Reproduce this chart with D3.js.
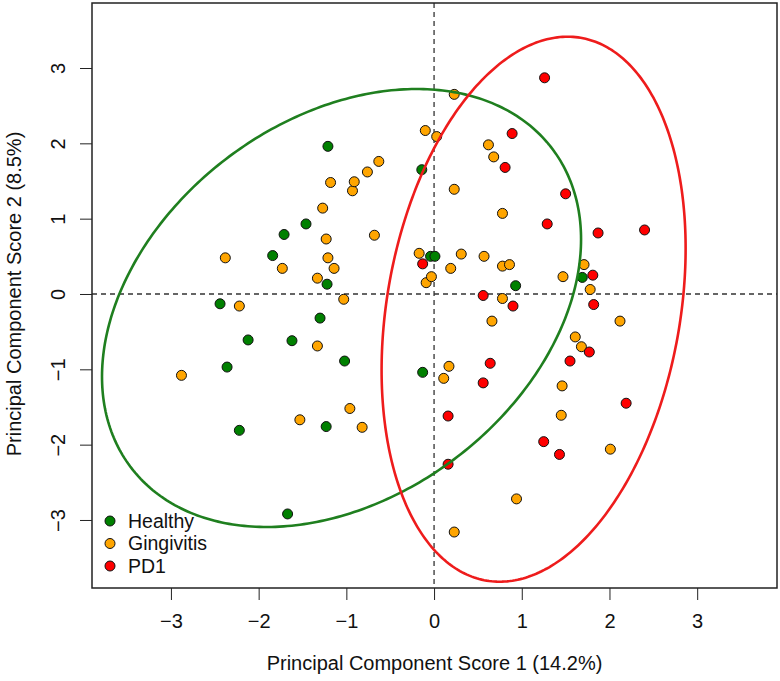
<!DOCTYPE html>
<html>
<head>
<meta charset="utf-8">
<script src="https://cdn.jsdelivr.net/npm/d3@7"></script>
<style>
html,body{margin:0;padding:0;background:#fff;}
svg{display:block;font-family:"Liberation Sans", Arial, Helvetica, sans-serif;}
</style>
</head>
<body>
<svg id="chart" width="780" height="681"></svg>
<script>
// ---- data ----
const groups = ["Healthy", "Gingivitis", "PD1"];
const groupColors = ["#008000", "#FFA500", "#FF0000"];

const healthyX = [-1.84,-1.71,-1.46,-1.22,-1.21,-0.14,-0.04,0.01,1.69,0.93,-2.44,-1.30,-2.12,-1.62,-1.02,-2.36,-0.13,-1.23,-2.22,-1.67];
const healthyY = [0.51,0.79,0.93,0.13,1.96,1.65,0.50,0.50,0.22,0.11,-0.13,-0.32,-0.61,-0.62,-0.89,-0.97,-1.04,-1.76,-1.81,-2.92];

const gingivitisX = [-2.38,-1.73,-1.33,-1.27,-1.23,-1.21,-1.18,-1.14,-1.03,-0.93,-0.91,-0.76,-0.68,-0.63,-0.17,-0.10,-0.09,-0.03,0.03,0.23,
  0.62,0.68,0.23,0.78,0.31,0.57,0.19,0.78,0.86,1.71,1.47,1.78,0.78,-2.22,-2.88,-1.33,-0.96,-1.53,-0.82,0.66,
  2.12,1.61,1.68,0.17,0.11,1.46,1.45,2.01,0.94,0.23];
const gingivitisY = [0.48,0.34,0.21,1.14,0.73,0.48,1.48,0.34,-0.07,1.37,1.49,1.62,0.78,1.76,0.54,2.17,0.15,0.23,2.09,2.65,
  1.98,1.82,1.39,1.07,0.53,0.50,0.34,0.37,0.39,0.39,0.23,0.06,-0.06,-0.16,-1.08,-0.69,-1.52,-1.67,-1.77,-0.36,
  -0.36,-0.57,-0.70,-0.96,-1.12,-1.22,-1.61,-2.06,-2.72,-3.16];

const pd1X = [-0.13,1.26,0.89,0.81,1.50,1.29,1.87,2.40,1.81,0.56,0.90,1.82,1.77,1.55,0.64,0.56,2.19,0.16,1.25,1.43,0.16];
const pd1Y = [0.40,2.87,2.13,1.68,1.33,0.93,0.81,0.85,0.25,-0.02,-0.16,-0.14,-0.77,-0.89,-0.92,-1.18,-1.45,-1.62,-1.96,-2.13,-2.26];

// confidence ellipses: center and covariance (data units)
const ellipseGroups = ["Healthy", "PD1"];
const ellipseCx = [-1.055, 1.135];
const ellipseCy = [-0.186, -0.202];
const ellipseSxx = [7.458, 3.004];
const ellipseSyy = [8.452, 13.086];
const ellipseSxy = [2.49, 1.40];
const ellipseColors = ["#1f7f1f", "#ee1c1c"];

const tickValues = [-3, -2, -1, 0, 1, 2, 3];
const xTitle = "Principal Component Score 1 (14.2%)";
const yTitle = "Principal Component Score 2 (8.5%)";

// ---- layout ----
const svg = d3.select("#chart");
const pLeft = 92, pRight = 777, pTop = 3, pBottom = 588;
const x = d3.scaleLinear().domain([-3.9, 3.91]).range([pLeft, pRight]);
const y = d3.scaleLinear().domain([-3.903, 3.863]).range([pBottom, pTop]);
const fmt = v => (v < 0 ? "\u2212" + Math.abs(v) : String(v));

// axes
const xAxis = d3.axisBottom(x).tickValues(tickValues).tickSize(12).tickPadding(14).tickFormat(fmt);
const gx = svg.append("g").attr("transform", `translate(0,${pBottom})`).call(xAxis);
gx.select(".domain").remove();
gx.selectAll("line").attr("stroke", "#222").attr("stroke-width", 1);
gx.selectAll("text").attr("font-size", 20).attr("fill", "#111").attr("font-family", "Liberation Sans, Arial, sans-serif");

const yAxis = d3.axisLeft(y).tickValues(tickValues).tickSize(12).tickFormat(fmt);
const gy = svg.append("g").attr("transform", `translate(${pLeft},0)`).call(yAxis);
gy.select(".domain").remove();
gy.selectAll("line").attr("stroke", "#222").attr("stroke-width", 1);
gy.selectAll("text")
  .attr("font-size", 20).attr("fill", "#111").attr("font-family", "Liberation Sans, Arial, sans-serif")
  .attr("x", null).attr("dy", null)
  .attr("text-anchor", "middle")
  .attr("transform", `translate(-27,0) rotate(-90)`);

// axis titles
svg.append("text").attr("x", (pLeft + pRight) / 2).attr("y", 670)
  .attr("text-anchor", "middle").attr("font-size", 20).attr("fill", "#111")
  .text(xTitle);
svg.append("text").attr("transform", `translate(21,${y(0)}) rotate(-90)`)
  .attr("text-anchor", "middle").attr("font-size", 20).attr("fill", "#111")
  .text(yTitle);

// reference dashed lines
svg.append("line").attr("x1", x(0)).attr("x2", x(0)).attr("y1", pTop).attr("y2", pBottom)
  .attr("stroke", "#333").attr("stroke-width", 1.3).attr("stroke-dasharray", "5,4");
svg.append("line").attr("x1", pLeft).attr("x2", pRight).attr("y1", y(0)).attr("y2", y(0))
  .attr("stroke", "#333").attr("stroke-width", 1.3).attr("stroke-dasharray", "5,4");

// points
const seriesX = [healthyX, gingivitisX, pd1X];
const seriesY = [healthyY, gingivitisY, pd1Y];
const pts = [];
groups.forEach((g, gi) => {
  seriesX[gi].forEach((vx, i) => pts.push({g: gi, x: vx, y: seriesY[gi][i]}));
});
svg.append("g").selectAll("circle").data(pts).join("circle")
  .attr("cx", d => x(d.x)).attr("cy", d => y(d.y)).attr("r", 5)
  .attr("fill", d => groupColors[d.g]).attr("stroke", "#111").attr("stroke-width", 1);

// ellipses
const line = d3.line().curve(d3.curveLinearClosed);
ellipseGroups.forEach((g, i) => {
  const l11 = Math.sqrt(ellipseSxx[i]);
  const l21 = ellipseSxy[i] / l11;
  const l22 = Math.sqrt(ellipseSyy[i] - l21 * l21);
  const path = d3.range(0, 360, 1).map(a => {
    const t = a * Math.PI / 180;
    const c = Math.cos(t), s = Math.sin(t);
    return [x(ellipseCx[i] + l11 * c), y(ellipseCy[i] + l21 * c + l22 * s)];
  });
  svg.append("path").attr("d", line(path)).attr("fill", "none")
    .attr("stroke", ellipseColors[i]).attr("stroke-width", 2.6);
});

// box
svg.append("rect").attr("x", pLeft).attr("y", pTop).attr("width", pRight - pLeft).attr("height", pBottom - pTop)
  .attr("fill", "none").attr("stroke", "#222").attr("stroke-width", 1.5);

// legend
const legY = [521, 543.5, 566];
groups.forEach((g, i) => {
  svg.append("circle").attr("cx", 110).attr("cy", legY[i]).attr("r", 5)
    .attr("fill", groupColors[i]).attr("stroke", "#111").attr("stroke-width", 1);
  svg.append("text").attr("x", 128).attr("y", legY[i]).attr("dy", "0.35em")
    .attr("font-size", 19.5).attr("fill", "#111").text(g);
});
</script>
</body>
</html>
